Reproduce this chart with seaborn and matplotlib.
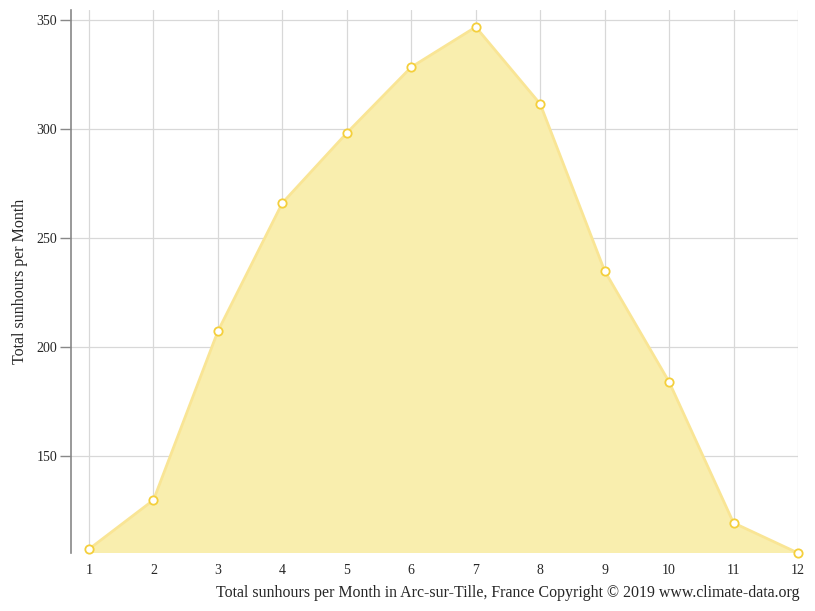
import pandas as pd
import matplotlib.pyplot as plt
import seaborn as sns; sns.set_style('whitegrid')

# monthly sunshine hours
months = [1, 2, 3, 4, 5, 6, 7, 8, 9, 10, 11, 12]
sunhours = [107.3, 129.8, 207.3, 266.1, 298.2, 328.4, 346.8, 311.5, 234.9, 184.0, 119.3, 105.5]
yticks = [150, 200, 250, 300, 350]

plt.rcParams['font.family'] = ['Liberation Serif', 'DejaVu Serif']

df = pd.DataFrame({'month': months, 'hours': sunhours})

fig = plt.figure(figsize=(8.15, 6.11), dpi=100)
ax = fig.add_axes([71/815, 1 - 553/611, (798 - 71)/815, (553 - 10)/611])

ax.fill_between(df['month'], df['hours'], 0, color='#f9eeae', alpha=1, zorder=1, linewidth=0)
sns.lineplot(data=df, x='month', y='hours', ax=ax, color='#f9e595', linewidth=2,
             marker='o', markersize=6, markerfacecolor='white', markeredgecolor='#f4cf3c',
             markeredgewidth=1.3, zorder=3, clip_on=False)

ax.set_xlim(0.72, 12)
ax.set_ylim(105.5, 354.6)
ax.set_xticks(months)
ax.set_yticks(yticks)
ax.grid(True, color='#d8d8d8', linewidth=0.9)
ax.set_axisbelow(True)
for s in ['top', 'right', 'bottom']:
    ax.spines[s].set_visible(False)
ax.spines['left'].set_color('#888888')
ax.spines['left'].set_linewidth(1.2)
ax.tick_params(axis='y', length=8, width=1, color='#888888', labelsize=10, pad=2, left=True)
ax.tick_params(axis='x', length=0, labelsize=10, pad=8)
ax.set_xlabel('')
ax.set_ylabel('Total sunhours per Month', fontsize=11.5, labelpad=6)

fig.text(800/815, 1 - 593/611, 'Total sunhours per Month in Arc-sur-Tille, France Copyright © 2019 www.climate-data.org',
         ha='right', va='center', fontsize=11.4)

plt.savefig('out.png', dpi=100)
